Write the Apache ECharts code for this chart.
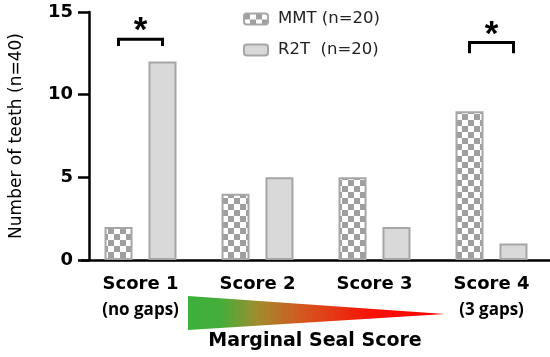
<!DOCTYPE html>
<html>
<head>
<meta charset="utf-8">
<script src="https://cdn.jsdelivr.net/npm/echarts@6/dist/echarts.min.js"></script>
<style>
html,body{margin:0;padding:0;background:#fff;}
#chart{width:550px;height:357px;}
</style>
</head>
<body>
<div id="chart"></div>
<script>
// ---- data ----
var categories = ['Score 1', 'Score 2', 'Score 3', 'Score 4'];
var subLabels = ['(no gaps)', '', '', '(3 gaps)'];
var mmtValues = [2, 4, 5, 9];
var r2tValues = [12, 5, 2, 1];
var seriesNames = ['MMT (n=20)', 'R2T  (n=20)'];
var yTicks = [0, 5, 10, 15];
// significance brackets: [categoryIndex, bracketTop, legBottom, starLevel]
var sigBrackets = [[0, 13.35, 12.95, 14.35], [3, 13.15, 12.5, 14.15]];

// checker pattern
var pc = document.createElement('canvas');
pc.width = 12; pc.height = 12;
var g = pc.getContext('2d');
g.fillStyle = '#ffffff'; g.fillRect(0, 0, 12, 12);
g.fillStyle = '#9f9f9f';
g.fillRect(0, 0, 6, 6); g.fillRect(6, 6, 6, 6);

var chart = echarts.init(document.getElementById('chart'), null, {renderer: 'canvas'});
var blk = '#000';
var option = {
  animation: false,
  backgroundColor: '#fff',
  grid: {left: 81, top: 12, width: 470, height: 248},
  legend: {
    orient: 'vertical', left: 238, top: 5, itemGap: 13,
    itemWidth: 24, itemHeight: 11,
    textStyle: {fontFamily: 'DejaVu Sans', fontSize: 16.5, color: '#222', lineHeight: 18, padding: [0, 0, 0, 5]},
    data: seriesNames
  },
  xAxis: {
    type: 'category', data: categories,
    axisLine: {lineStyle: {color: blk, width: 2.5}},
    axisTick: {alignWithLabel: true, length: 10, lineStyle: {color: blk, width: 2.5}},
    axisLabel: {
      margin: 13, interval: 0,
      formatter: function (v, i) {
        return subLabels[i] ? '{a|' + v + '}\n{b|' + subLabels[i] + '}' : '{a|' + v + '}';
      },
      rich: {
        a: {fontFamily: 'DejaVu Sans', fontWeight: 'bold', fontSize: 18, lineHeight: 22, color: blk},
        b: {fontFamily: 'Open Sans', fontWeight: 'bold', fontSize: 17, lineHeight: 30, color: blk}
      }
    }
  },
  yAxis: {
    type: 'value', min: 0, max: 15, interval: 5, offset: -7,
    name: 'Number of teeth (n=40)', nameLocation: 'middle', nameGap: 64,
    nameTextStyle: {fontFamily: 'DejaVu Sans', fontSize: 17, color: blk},
    axisLine: {show: true, lineStyle: {color: blk, width: 2.5}},
    axisTick: {show: true, length: 11, lineStyle: {color: blk, width: 2.5}},
    splitLine: {show: false},
    axisLabel: {margin: 16, fontFamily: 'DejaVu Sans', fontWeight: 'bold', fontSize: 18, color: blk,
      formatter: function (v) { return yTicks.indexOf(v) >= 0 ? String(v) : ''; }}
  },
  series: [
    {
      name: seriesNames[0], type: 'bar', data: mmtValues, barWidth: 28, barGap: '57%',
      itemStyle: {color: {image: pc, repeat: 'repeat'}, borderColor: '#a6a6a6', borderWidth: 2}
    },
    {
      name: seriesNames[1], type: 'bar', data: r2tValues, barWidth: 28,
      itemStyle: {color: '#d9d9d9', borderColor: '#a6a6a6', borderWidth: 2}
    },
    {
      type: 'custom', data: sigBrackets, silent: true, z: 10,
      renderItem: function (params, api) {
        var idx = api.value(0);
        var top = api.coord([idx, api.value(1)]);
        var bot = api.coord([idx, api.value(2)]);
        var star = api.coord([idx, api.value(3)]);
        var h = 22;
        return {
          type: 'group',
          children: [
            {type: 'polyline', shape: {points: [[top[0] - h, bot[1]], [top[0] - h, top[1]], [top[0] + h, top[1]], [top[0] + h, bot[1]]]},
              style: {stroke: blk, lineWidth: 3, fill: null}},
            {type: 'text', x: star[0], y: star[1] + 9,
              style: {text: '*', fontFamily: 'Liberation Sans', fontWeight: 'bold', fontSize: 35, fill: blk, align: 'center', verticalAlign: 'middle'}}
          ]
        };
      }
    }
  ],
  graphic: [
    {
      type: 'polygon', silent: true,
      shape: {points: [[188, 296], [188, 330], [445, 314]]},
      style: {fill: {type: 'linear', x: 0, y: 0, x2: 1, y2: 0, colorStops: [
        {offset: 0, color: '#3db03c'}, {offset: 0.13, color: '#45ad3a'},
        {offset: 0.27, color: '#a08c2e'}, {offset: 0.45, color: '#d5561e'},
        {offset: 0.7, color: '#f81408'}, {offset: 1, color: '#ff0000'}]}}
    },
    {
      type: 'text', x: 315, y: 341, silent: true,
      style: {text: 'Marginal Seal Score', fontFamily: 'DejaVu Sans', fontWeight: 'bold', fontSize: 19, fill: blk, align: 'center', verticalAlign: 'middle'}
    }
  ]
};
chart.setOption(option);
</script>
</body>
</html>
